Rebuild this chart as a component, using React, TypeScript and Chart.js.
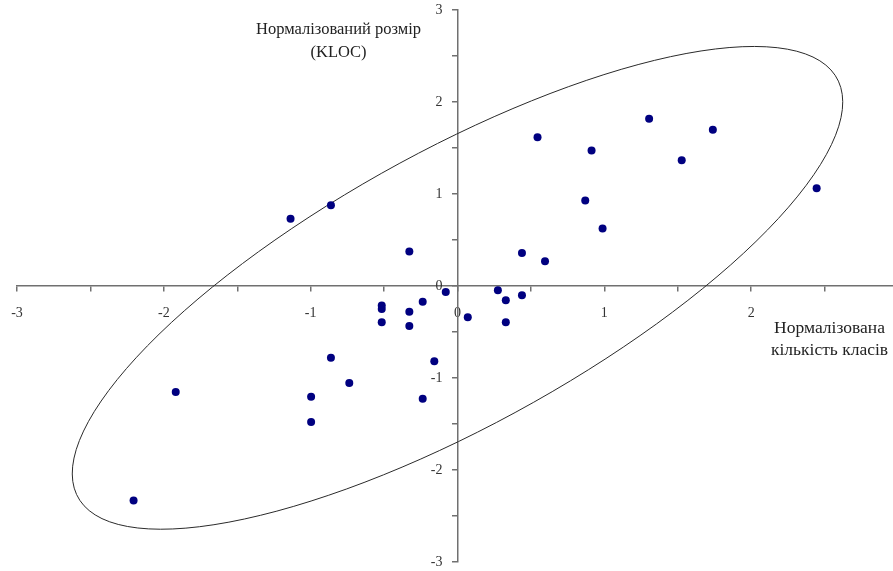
import { useEffect, useRef } from 'react';
import { Chart, registerables } from 'chart.js';

Chart.register(...registerables);

// Normalised number of classes (x) and normalised size in KLOC (y)
const X_VALUES = [
  -2.206, -1.919, -1.137, -0.862, -0.328, -0.516, -0.516, -0.516, -0.328, -0.328,
  -0.237, -0.080, 0.070, 0.275, 0.329, 0.329, 0.439, 0.439, 0.596, -0.862,
  -0.737, -0.997, -0.997, -0.158, -0.237, 0.545, 0.913, 1.305, 1.527, 1.739,
  0.870, 0.988, 2.446,
];
const Y_VALUES = [
  -2.332, -1.153, 0.730, 0.878, 0.374, -0.213, -0.249, -0.395, -0.279, -0.434,
  -0.170, -0.064, -0.341, -0.047, -0.156, -0.395, -0.101, 0.360, 0.269, -0.779,
  -1.054, -1.203, -1.479, -0.819, -1.225, 1.618, 1.473, 1.818, 1.368, 1.699,
  0.929, 0.625, 1.063,
];

const X_TICKS = [-3, -2.5, -2, -1.5, -1, -0.5, 0, 0.5, 1, 1.5, 2, 2.5];
const Y_TICKS = [-3, -2.5, -2, -1.5, -1, -0.5, 0, 0.5, 1, 1.5, 2, 2.5, 3];

// Ellipse in data units: centre, semi-axes, rotation of the major axis
const ELLIPSE_CENTER = [0, -0.02];
const ELLIPSE_RADII = [3.49, 1.26];
const ELLIPSE_ANGLE_DEG = [45];

const Y_TITLE = ['Нормалізований розмір', '(KLOC)'];
const X_TITLE = ['Нормалізована', 'кількість класів'];

const FONT = "'Liberation Serif', 'Times New Roman', serif";

const overlayPlugin = {
  id: 'overlay',
  beforeDatasetsDraw(chart: any) {
    const { ctx, scales } = chart;
    const xs = scales.x;
    const ys = scales.y;
    const cx = xs.getPixelForValue(ELLIPSE_CENTER[0]);
    const cy = ys.getPixelForValue(ELLIPSE_CENTER[1]);
    const sx = xs.getPixelForValue(ELLIPSE_CENTER[0] + 1) - cx;
    const sy = ys.getPixelForValue(ELLIPSE_CENTER[1] + 1) - cy;
    ctx.save();
    ctx.beginPath();
    ctx.save();
    ctx.translate(cx, cy);
    ctx.scale(sx, sy);
    ctx.rotate((ELLIPSE_ANGLE_DEG[0] * Math.PI) / 180);
    ctx.ellipse(0, 0, ELLIPSE_RADII[0], ELLIPSE_RADII[1], 0, 0, Math.PI * 2);
    ctx.restore();
    ctx.strokeStyle = '#2a2a2a';
    ctx.lineWidth = 1;
    ctx.stroke();
    ctx.restore();
  },
  afterDraw(chart: any) {
    const { ctx, scales } = chart;
    const x0 = scales.x.getPixelForValue(0);
    const y0 = scales.y.getPixelForValue(0);
    ctx.save();
    ctx.fillStyle = '#222';
    ctx.textAlign = 'center';
    ctx.textBaseline = 'middle';
    ctx.font = `16.5px ${FONT}`;
    Y_TITLE.forEach((t, i) => ctx.fillText(t, x0 - 119, 30 + i * 23));
    ctx.font = `17.5px ${FONT}`;
    X_TITLE.forEach((t, i) => ctx.fillText(t, x0 + 372, y0 + 42 + i * 22));
    ctx.restore();
  },
};

const zeroFit = (dim: 'width' | 'height') => (s: any) => {
  s[dim] = 0;
  s.paddingTop = 0;
  s.paddingBottom = 0;
  s.paddingLeft = 0;
  s.paddingRight = 0;
};

export default function App() {
  const ref = useRef<HTMLCanvasElement | null>(null);

  useEffect(() => {
    if (!ref.current) return;
    Chart.defaults.font.family = FONT;
    const points = X_VALUES.map((x, i) => ({ x, y: Y_VALUES[i] }));
    const axisColor = '#707070';
    const chart = new Chart(ref.current, {
      type: 'scatter',
      data: {
        datasets: [
          {
            data: points,
            backgroundColor: '#000080',
            borderWidth: 0,
            pointRadius: 4,
          },
        ],
      },
      options: {
        animation: false,
        responsive: false,
        devicePixelRatio: 1,
        events: [],
        layout: { padding: { left: 17, right: 0, top: 10, bottom: 9 } },
        plugins: { legend: { display: false }, tooltip: { enabled: false } },
        scales: {
          x: {
            type: 'linear',
            min: -3,
            max: 3,
            position: { y: 0 } as any,
            afterFit: zeroFit('height'),
            afterBuildTicks: (s: any) => {
              s.ticks = X_TICKS.map((v) => ({ value: v }));
            },
            grid: {
              drawOnChartArea: false,
              drawTicks: true,
              tickLength: 5,
              tickColor: axisColor,
              lineWidth: 1.5,
            },
            border: { display: true, color: axisColor, width: 1.5 },
            ticks: {
              autoSkip: false,
              maxRotation: 0,
              padding: 14,
              color: '#333',
              font: { size: 14, family: FONT },
              callback: (v: any) => (Number.isInteger(Number(v)) ? String(v) : ''),
            },
          },
          y: {
            type: 'linear',
            min: -3,
            max: 3,
            position: 'center',
            afterFit: zeroFit('width'),
            afterBuildTicks: (s: any) => {
              s.ticks = Y_TICKS.map((v) => ({ value: v }));
            },
            grid: {
              drawOnChartArea: false,
              drawTicks: true,
              tickLength: 5,
              tickColor: axisColor,
              lineWidth: 1.5,
            },
            border: { display: true, color: axisColor, width: 1.5 },
            ticks: {
              autoSkip: false,
              padding: 10,
              color: '#333',
              font: { size: 14, family: FONT },
              callback: (v: any) => (Number.isInteger(Number(v)) ? String(v) : ''),
            },
          },
        },
      },
      plugins: [overlayPlugin],
    });
    return () => chart.destroy();
  }, []);

  return (
    <div style={{ position: 'absolute', left: 0, top: 0, width: 893, height: 571, overflow: 'hidden' }}>
      <canvas ref={ref} width={902} height={571} style={{ display: 'block', width: 902, height: 571 }} />
    </div>
  );
}
